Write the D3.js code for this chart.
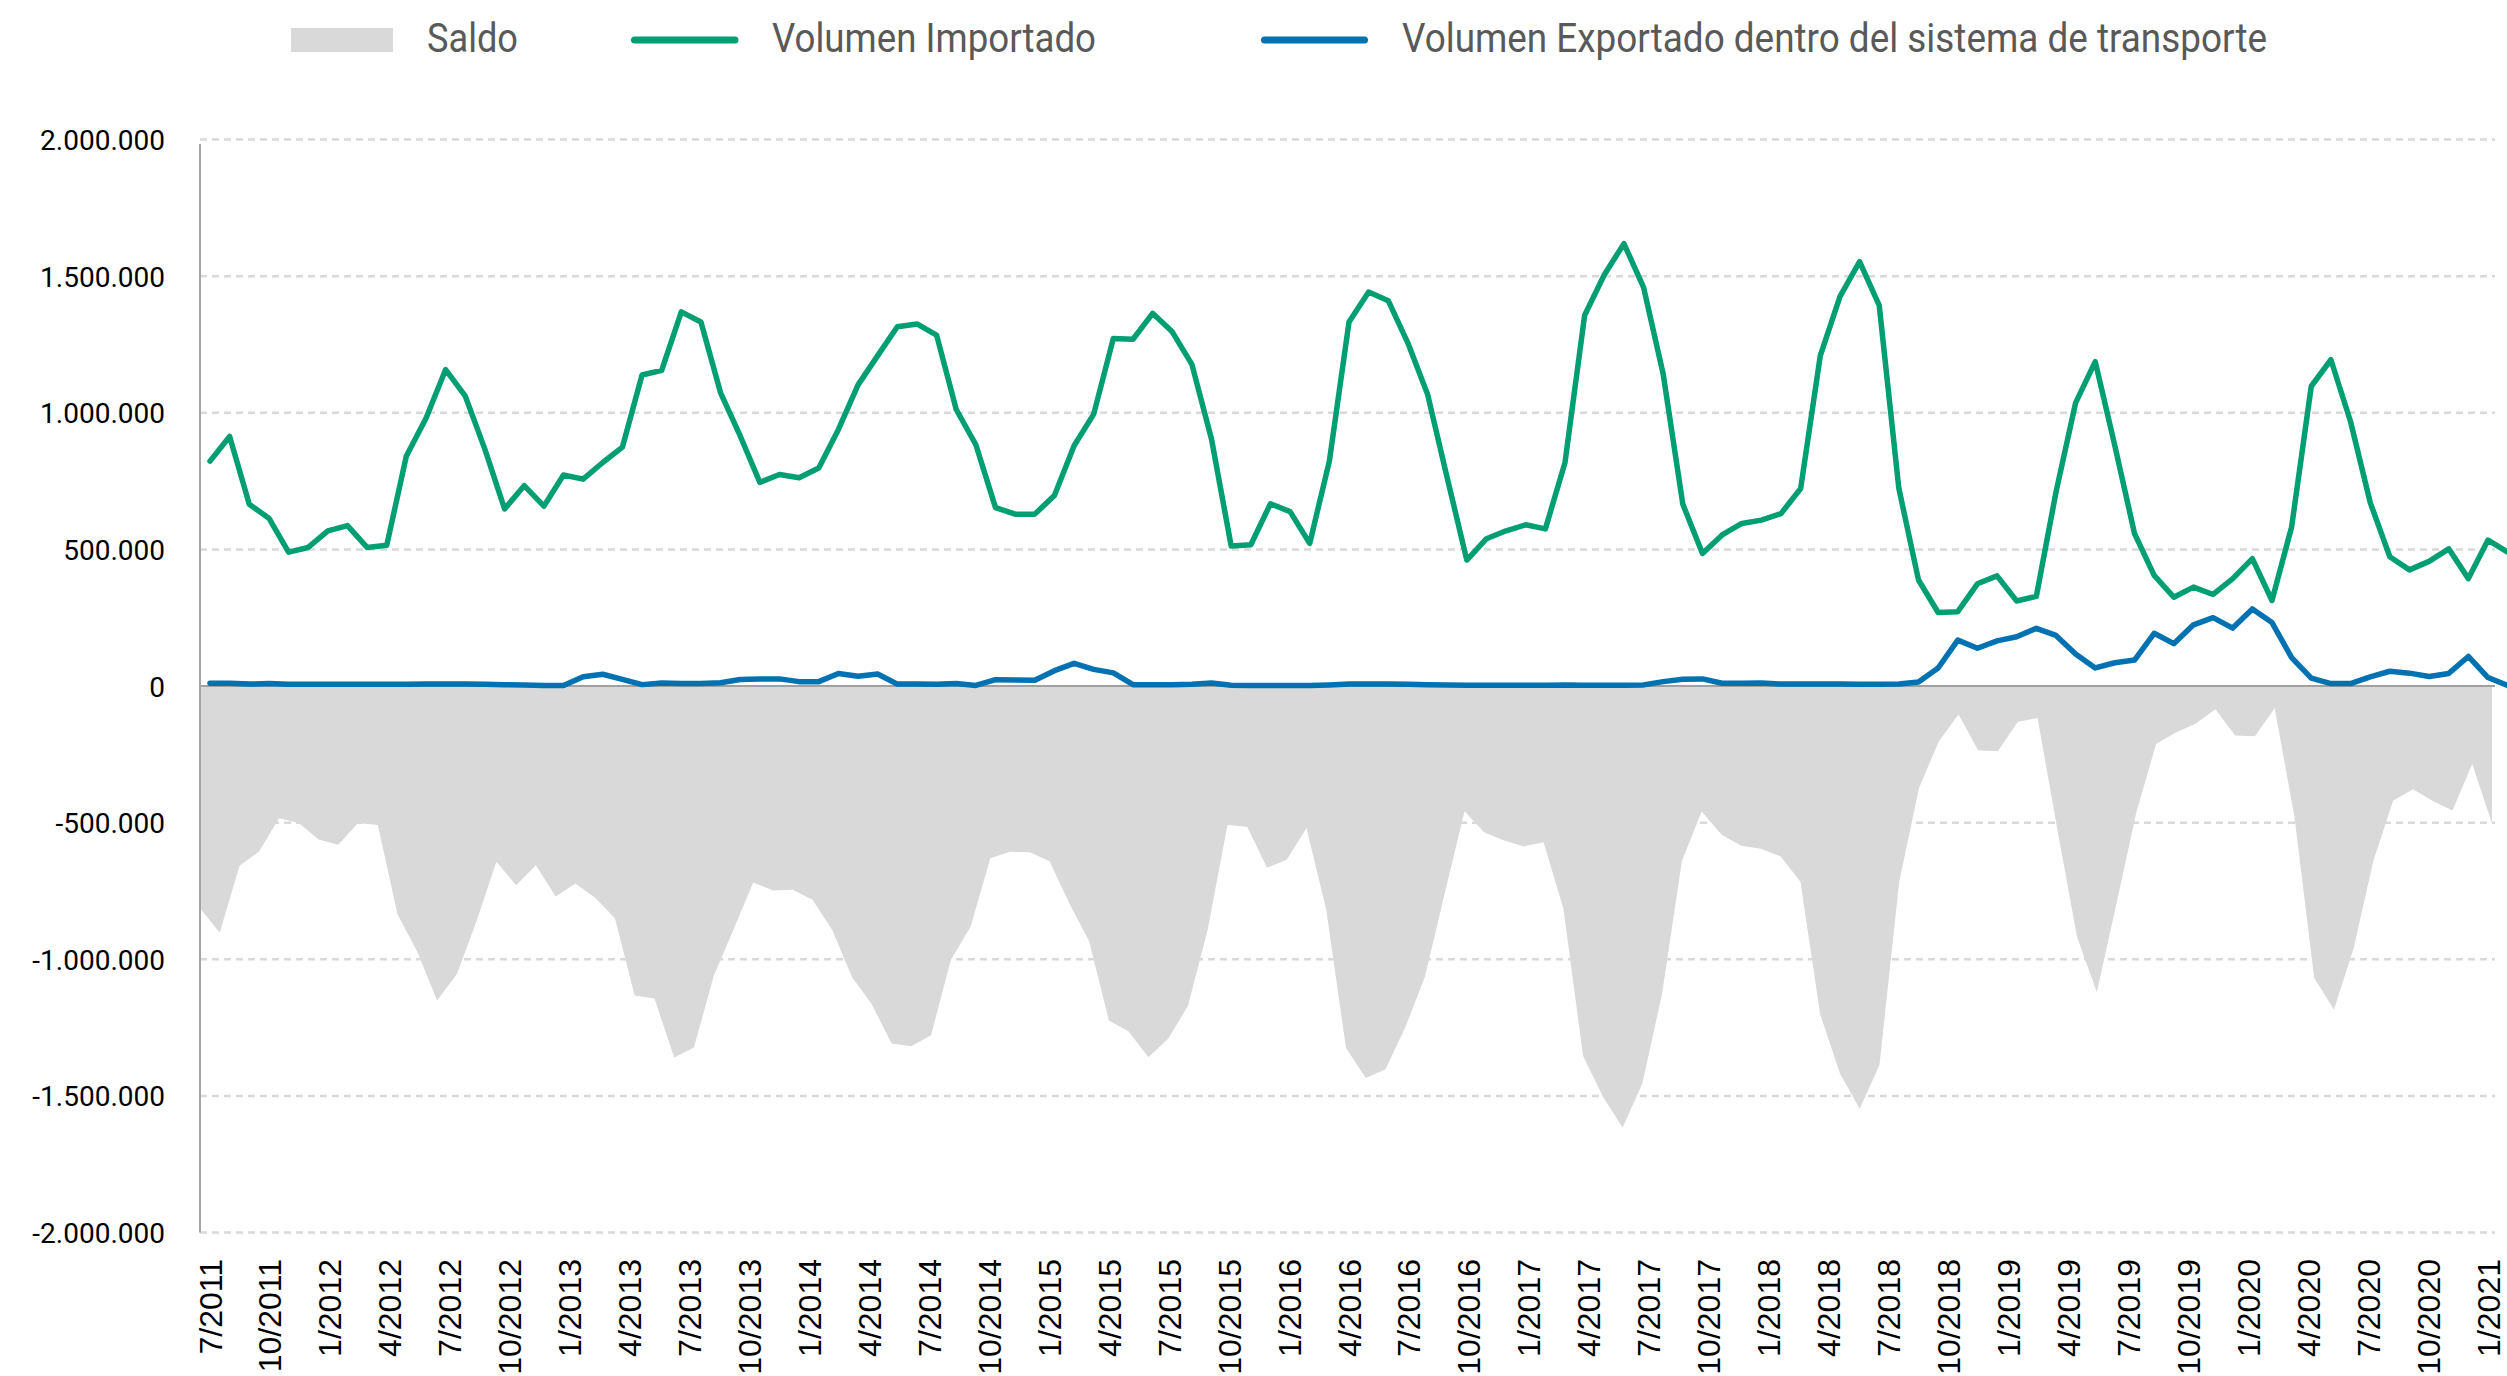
<!DOCTYPE html>
<html><head><meta charset="utf-8">
<script src="https://cdn.jsdelivr.net/npm/d3@7"></script>
<style>
html,body{margin:0;padding:0;background:#fff;overflow:hidden;}
svg{display:block;}
</style></head><body>
<svg id="chart" width="2507" height="1376"></svg>
<script>
// Etiquetas del eje X (cada 3 meses)
const tickLabels = ["7/2011","10/2011","1/2012","4/2012","7/2012","10/2012","1/2013","4/2013","7/2013","10/2013",
  "1/2014","4/2014","7/2014","10/2014","1/2015","4/2015","7/2015","10/2015","1/2016","4/2016",
  "7/2016","10/2016","1/2017","4/2017","7/2017","10/2017","1/2018","4/2018","7/2018","10/2018",
  "1/2019","4/2019","7/2019","10/2019","1/2020","4/2020","7/2020","10/2020","1/2021"];

// Volumen Importado (mensual)
const importado = [823000,913000,665000,614000,490000,507000,568000,587000,507000,515000,
  842000,980000,1158000,1061000,866000,648000,733000,658000,772000,757000,
  818000,874000,1138000,1155000,1369000,1332000,1073000,915000,745000,774000,
  762000,798000,939000,1102000,1209000,1315000,1325000,1284000,1012000,883000,
  653000,629000,629000,697000,879000,995000,1272000,1269000,1364000,1296000,
  1177000,903000,512000,517000,667000,638000,522000,823000,1332000,1442000,
  1410000,1255000,1068000,762000,461000,539000,568000,590000,575000,818000,
  1357000,1505000,1619000,1459000,1141000,665000,485000,553000,595000,607000,
  631000,723000,1209000,1425000,1553000,1393000,723000,388000,269000,272000,
  374000,403000,311000,328000,709000,1036000,1187000,879000,558000,405000,
  325000,362000,335000,393000,466000,313000,582000,1097000,1194000,968000,
  672000,473000,425000,456000,502000,393000,534000,490000];

// Volumen Exportado dentro del sistema de transporte (mensual)
const exportado = [10000,10000,7000,9000,6000,6000,6000,6000,6000,6000,
  6000,7000,7000,7000,6000,5000,4000,2000,2000,34000,
  43000,24000,5000,11000,9000,9000,12000,24000,26000,26000,
  16000,16000,46000,36000,44000,7000,7000,6000,9000,2000,
  23000,22000,21000,56000,83000,61000,48000,5000,5000,5000,
  6000,11000,3000,2000,2000,2000,2000,4000,7000,7000,
  7000,6000,5000,4000,3000,3000,3000,3000,3000,4000,
  3000,3000,3000,4000,16000,25000,26000,10000,10000,11000,
  7000,7000,7000,7000,6000,6000,7000,15000,66000,168000,
  138000,165000,180000,211000,185000,117000,66000,85000,95000,193000,
  155000,224000,250000,212000,282000,232000,104000,29000,9000,9000,
  33000,54000,47000,35000,46000,108000,31000,2000];

// Saldo (mensual)
const saldo = [-813000,-903000,-658000,-605000,-484000,-501000,-562000,-581000,-501000,-509000,
  -836000,-973000,-1151000,-1054000,-860000,-643000,-729000,-656000,-770000,-723000,
  -775000,-850000,-1133000,-1144000,-1360000,-1323000,-1061000,-891000,-719000,-748000,
  -746000,-782000,-893000,-1066000,-1165000,-1308000,-1318000,-1278000,-1003000,-881000,
  -630000,-607000,-608000,-641000,-796000,-934000,-1224000,-1264000,-1359000,-1291000,
  -1171000,-892000,-509000,-515000,-665000,-636000,-520000,-819000,-1325000,-1435000,
  -1403000,-1249000,-1063000,-758000,-458000,-536000,-565000,-587000,-572000,-814000,
  -1354000,-1502000,-1616000,-1455000,-1125000,-640000,-459000,-543000,-585000,-596000,
  -624000,-716000,-1202000,-1418000,-1547000,-1387000,-716000,-373000,-203000,-104000,
  -236000,-238000,-131000,-117000,-524000,-919000,-1121000,-794000,-463000,-212000,
  -170000,-138000,-85000,-181000,-184000,-81000,-478000,-1068000,-1185000,-959000,
  -639000,-419000,-378000,-421000,-456000,-285000,-503000];

const yTicks = [-2000000,-1500000,-1000000,-500000,0,500000,1000000,1500000,2000000];

const seriesNames = ["Saldo","Volumen Importado","Volumen Exportado dentro del sistema de transporte"];
const colors = {saldo:"#d9d9d9", imp:"#009e73", exp:"#0072b2"};

const svg = d3.select("#chart");
const plot = {left:200, right:2495, top:139.5, bottom:1232.5};

const y = d3.scaleLinear().domain([-2000000, 2000000]).range([plot.bottom, plot.top]);
const xLine = d3.scaleLinear().domain([0, 116]).range([210, 2488]);
const xArea = d3.scaleLinear().domain([0, saldo.length - 1]).range([plot.left, 2492]);
const xTick = d3.scalePoint().domain(tickLabels).range([210, 2488]);

const loc = d3.formatLocale({decimal:",", thousands:".", grouping:[3], currency:["",""], minus:"-"});
const fmt = loc.format(",d");

// grid
svg.append("g").selectAll("line").data(yTicks.filter(v => v !== 0)).join("line")
  .attr("x1", plot.left).attr("x2", plot.right)
  .attr("y1", d => y(d)).attr("y2", d => y(d))
  .attr("stroke", "#d9d9d9").attr("stroke-width", 2.5).attr("stroke-dasharray", "7,5");

// area (saldo)
const area = d3.area().x((d, i) => xArea(i)).y0(y(0)).y1(d => y(d));
svg.append("path").datum(saldo).attr("d", area).attr("fill", colors.saldo);

// zero line and left axis
svg.append("line").attr("x1", plot.left).attr("x2", plot.right)
  .attr("y1", y(0)).attr("y2", y(0)).attr("stroke", "#a0a0a0").attr("stroke-width", 2);
svg.append("line").attr("x1", plot.left).attr("x2", plot.left)
  .attr("y1", 144).attr("y2", plot.bottom).attr("stroke", "#a6a6a6").attr("stroke-width", 2);

// lines
const line = d3.line().x((d, i) => xLine(i)).y(d => y(d)).curve(d3.curveLinear);
svg.append("path").datum(importado).attr("d", line).attr("fill", "none")
  .attr("stroke", colors.imp).attr("stroke-width", 5.5).attr("stroke-linejoin", "round").attr("stroke-linecap", "round");
svg.append("path").datum(exportado).attr("d", line).attr("fill", "none")
  .attr("stroke", colors.exp).attr("stroke-width", 5.5).attr("stroke-linejoin", "round").attr("stroke-linecap", "round");

// y axis labels
const yAxis = svg.append("g").attr("transform", "translate(165,0)")
  .call(d3.axisLeft(y).tickValues(yTicks).tickFormat(fmt).tickSize(0).tickPadding(0));
yAxis.select(".domain").remove();
yAxis.selectAll("text").attr("font-family", "Roboto, 'Liberation Sans', sans-serif")
  .attr("font-size", 28).attr("fill", "#000").attr("dy", "0.36em");

// x axis labels
svg.append("g").selectAll("text").data(tickLabels).join("text")
  .attr("transform", d => `translate(${xTick(d)},1259) rotate(-90)`)
  .attr("text-anchor", "end").attr("dy", "0.36em")
  .attr("font-family", "'Liberation Sans', Arial, sans-serif").attr("font-size", 32).attr("fill", "#000")
  .text(d => d);

// legend
const leg = svg.append("g").attr("font-family", "Roboto, 'Liberation Sans', sans-serif")
  .attr("font-size", 41).attr("fill", "#595959");
leg.append("rect").attr("x", 291).attr("y", 28).attr("width", 102).attr("height", 24).attr("fill", colors.saldo);
leg.append("text").attr("x", 427).attr("y", 52).attr("textLength", 91).attr("lengthAdjust", "spacingAndGlyphs").text(seriesNames[0]);
leg.append("line").attr("x1", 634.5).attr("x2", 735).attr("y1", 40).attr("y2", 40)
  .attr("stroke", colors.imp).attr("stroke-width", 7).attr("stroke-linecap", "round");
leg.append("text").attr("x", 772).attr("y", 52).attr("textLength", 324).attr("lengthAdjust", "spacingAndGlyphs").text(seriesNames[1]);
leg.append("line").attr("x1", 1264.5).attr("x2", 1364.5).attr("y1", 40).attr("y2", 40)
  .attr("stroke", colors.exp).attr("stroke-width", 7).attr("stroke-linecap", "round");
leg.append("text").attr("x", 1402).attr("y", 52).attr("textLength", 865).attr("lengthAdjust", "spacingAndGlyphs").text(seriesNames[2]);
</script>
</body></html>
